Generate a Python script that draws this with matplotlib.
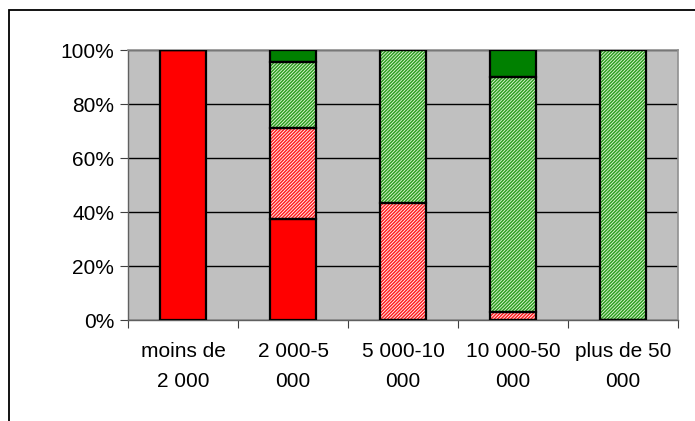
import numpy as np
import matplotlib.pyplot as plt
from matplotlib.patches import Rectangle

plt.rcParams['font.family'] = ['Liberation Sans', 'DejaVu Sans']
plt.rcParams['hatch.linewidth'] = 1.1

categories = ['moins de\n2 000', '2 000-5\n000', '5 000-10\n000', '10 000-50\n000', 'plus de 50\n000']
red_solid = [100, 37.5, 0, 0, 0]
red_hatch = [0, 33.5, 43.5, 3, 0]
green_hatch = [0, 24.5, 56.5, 87, 100]
green_solid = [0, 4.5, 0, 10, 0]

fig = plt.figure(figsize=(6.95, 4.21), dpi=100)
ax = fig.add_axes([128/695, 1-320/421, 550/695, 270/421])
ax.set_facecolor('#c0c0c0')

x = np.arange(len(categories))
w = 0.41
series = [
    (red_solid, '#ff0000', None, '#ff0000'),
    (red_hatch, 'white', '//////////', '#ff2020'),
    (green_hatch, '#e8f8e0', '//////////', '#2ea020'),
    (green_solid, '#008000', None, '#008000'),
]
bottom = np.zeros(len(categories))
for vals, fc, hatch, hc in series:
    vals = np.array(vals, dtype=float)
    ax.bar(x, vals, w, bottom=bottom, color=fc, hatch=hatch, edgecolor=hc if hatch else fc,
           linewidth=0, zorder=2)
    ax.bar(x, vals, w, bottom=bottom, fill=False, edgecolor='black', linewidth=1.6, zorder=3)
    bottom += vals

ax.set_xlim(-0.5, len(categories) - 0.5)
ax.set_ylim(0, 100)
ax.set_yticks(np.arange(0, 101, 20))
ax.set_yticklabels([f'{v}%' for v in range(0, 101, 20)])
ax.yaxis.grid(True, color='black', linewidth=1.0, zorder=1)
ax.set_axisbelow(True)

ax.set_xticks(np.arange(-0.5, len(categories), 1))
ax.set_xticklabels([])
ax.set_xticks(x, minor=True)
ax.set_xticklabels(categories, minor=True, linespacing=1.75)
ax.tick_params(axis='x', which='minor', length=0, pad=16, labelsize=15)
ax.tick_params(axis='x', which='major', length=6, direction='out', color='#404040')
ax.tick_params(axis='y', length=6, direction='out', color='#404040', pad=4, labelsize=15)

for s in ['top', 'right']:
    ax.spines[s].set_color('#909090')
    ax.spines[s].set_linewidth(1.2)
for s in ['left', 'bottom']:
    ax.spines[s].set_color('#606060')
    ax.spines[s].set_linewidth(1.0)

# outer chart border (extends beyond the image on the right and bottom)
fig.patches.append(Rectangle((9/695, -0.1), 1.2, 1 - 10/421 + 0.1, transform=fig.transFigure,
                             fill=False, edgecolor='black', linewidth=1.3))

fig.savefig('out.png', dpi=100)
